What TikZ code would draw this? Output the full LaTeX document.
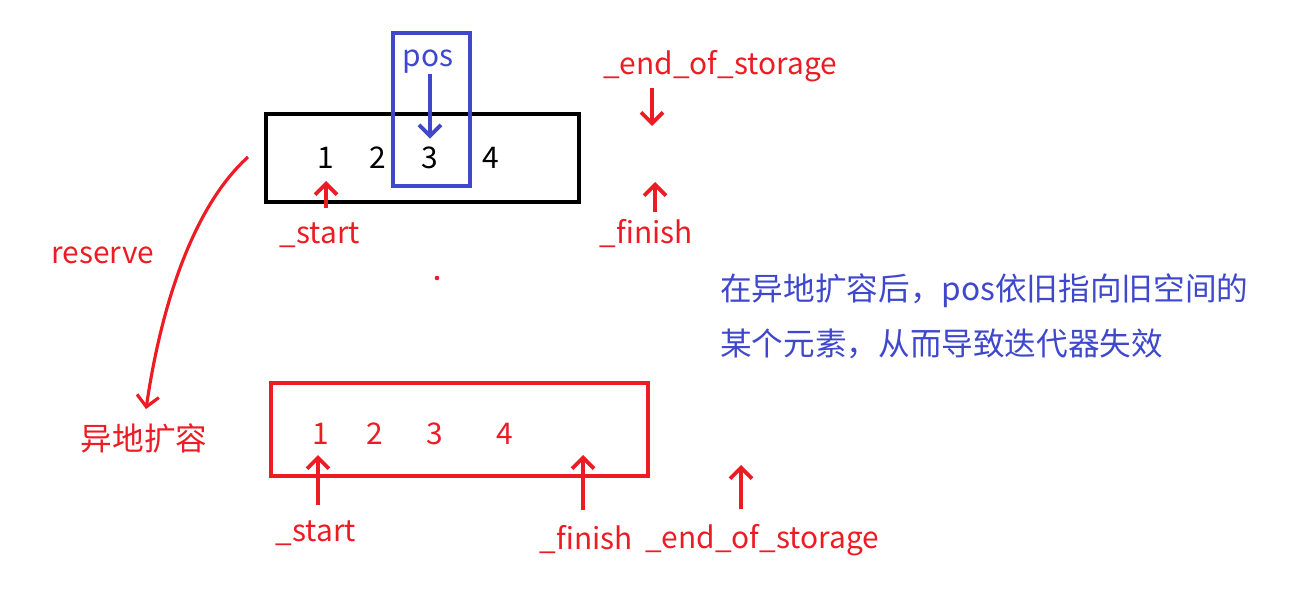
\documentclass[tikz,border=0pt]{standalone}
\usepackage{fontspec}
\setmainfont{Noto Sans CJK SC}
\usepackage{xcolor}
\usetikzlibrary{arrows.meta}
\definecolor{hred}{RGB}{237,28,36}
\definecolor{hblue}{RGB}{63,72,204}

\begin{document}
\begin{tikzpicture}[x=0.02cm, y=-0.02cm, >={Straight Barb[length=2.2mm,width=4.4mm]},
    lbl/.style={inner sep=0pt, text=hred, font=\fontsize{17}{20}\selectfont},
    cnlbl/.style={inner sep=0pt, font=\fontsize{18}{22}\selectfont},
    num/.style={inner sep=0pt, font=\fontsize{17}{20}\selectfont},
    ptr/.style={->, draw=hred, line width=2.2pt}]
    \useasboundingbox (0,0) rectangle (1308,605);

    % old storage
    \node [draw, line width=2.5pt, minimum width=6.26cm, minimum height=1.76cm] (oldbox) at (422.5,158) {};
    \node [num] (n1) at (326,158) {1};
    \node [num] (n2) at (378,158) {2};
    \node [num] (n3) at (430,158) {3};
    \node [num] (n4) at (491,158) {4};
    \node [draw=hblue, line width=2.5pt, minimum width=1.54cm, minimum height=3.06cm] (posbox) at (431.5,109.5) {};
    \node [lbl, text=hblue] (pos) at (428,62) {pos};
    \node [lbl] (start1) at (320,235) {\_start};
    \node [lbl] (finish1) at (646,234) {\_finish};
    \node [lbl] (eos1) at (720,66) {\_end\_of\_storage};
    \coordinate (finTip1) at (655,182);
    \coordinate (eosTip1) at (652,126);

    \draw [->, draw=hblue, line width=2.2pt, shorten >=0.16cm] (n3.north |- pos.south) -- (n3.north);
    \draw [ptr, shorten <=0.28cm, shorten >=0.24cm] (n1.south |- start1.north) -- (n1.south);
    \draw [ptr, shorten <=0.14cm] (finTip1 |- finish1.north) -- (finTip1);
    \draw [ptr, shorten <=0.12cm] (eos1.south -| eosTip1) -- (eosTip1);

    % reserve
    \coordinate (curveStart) at (248,157);
    \node [lbl] (reserve) at (103,255) {reserve};
    \node [cnlbl, text=hred] (remote) at (144,438) {异地扩容};
    \draw [ptr, line width=1.8pt, shorten >=0.28cm] (curveStart) .. controls (195,205) and (162,300) .. (remote.north);
    \fill [hred] (437,278) circle (1.3pt);

    % new storage
    \node [draw=hred, line width=2.5pt, minimum width=7.54cm, minimum height=1.86cm] (newbox) at (459.5,429.5) {};
    \node [num, text=hred] (m1) at (321,434) {1};
    \node [num, text=hred] (m2) at (375,434) {2};
    \node [num, text=hred] (m3) at (435,434) {3};
    \node [num, text=hred] (m4) at (505,434) {4};
    \node [lbl] (start2) at (316,533) {\_start};
    \node [lbl] (finish2) at (586,540) {\_finish};
    \node [lbl] (eos2) at (762,540) {\_end\_of\_storage};
    \coordinate (startTip2) at (318,455);
    \coordinate (finTip2) at (583,455);
    \coordinate (eosTip2) at (741,465);

    \draw [ptr, shorten <=0.3cm] (startTip2 |- start2.north) -- (startTip2);
    \draw [ptr, shorten <=0.3cm] (finTip2 |- finish2.north) -- (finTip2);
    \draw [ptr, shorten <=0.3cm] (eosTip2 |- eos2.north) -- (eosTip2);

    % note
    \node [cnlbl, text=hblue, anchor=west] (note1) at (720,291) {在异地扩容后，pos依旧指向旧空间的};
    \node [cnlbl, text=hblue, anchor=west] (note2) at (720,344) {某个元素，从而导致迭代器失效};
\end{tikzpicture}
\end{document}
